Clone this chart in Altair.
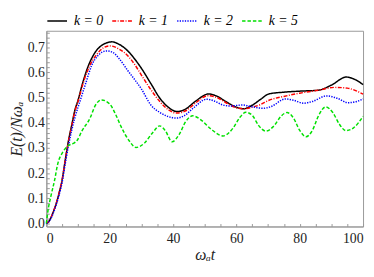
import altair as alt
import pandas as pd

# k = 0
x0 = [0, 1, 2, 3, 4, 5, 6, 7, 8, 9, 10, 11.5, 13.3, 15.4, 18, 20.7, 23, 25.7, 28, 30, 33, 36, 38.5, 41.3, 44, 47, 51.3, 54, 57, 60, 62.3, 65, 67.5, 70.3, 75, 80, 86, 90, 94.7, 97.5, 100]
y0 = [0, 0.012, 0.04, 0.075, 0.12, 0.175, 0.255, 0.33, 0.39, 0.45, 0.49, 0.56, 0.628, 0.68, 0.712, 0.722, 0.712, 0.686, 0.652, 0.617, 0.556, 0.495, 0.462, 0.445, 0.455, 0.485, 0.515, 0.505, 0.482, 0.462, 0.456, 0.47, 0.492, 0.515, 0.522, 0.526, 0.53, 0.55, 0.582, 0.572, 0.552]
# k = 1
x1 = [0, 1, 2, 3, 4, 5, 6, 7, 8, 9, 10, 11.5, 13.6, 15.5, 18, 20, 23, 25.7, 28, 30, 33, 36, 38.5, 41.2, 44, 47, 51, 54, 57, 60, 62.3, 65, 67.5, 70.3, 75, 80, 86, 91, 95, 100]
y1 = [0, 0.012, 0.04, 0.075, 0.12, 0.175, 0.253, 0.327, 0.387, 0.445, 0.485, 0.553, 0.625, 0.665, 0.698, 0.706, 0.693, 0.667, 0.63, 0.59, 0.532, 0.482, 0.452, 0.439, 0.448, 0.478, 0.508, 0.5, 0.478, 0.46, 0.456, 0.462, 0.472, 0.49, 0.505, 0.518, 0.53, 0.541, 0.538, 0.514]
# k = 2
x2 = [0, 1, 2, 3, 4, 5, 6, 7, 8, 9, 10.9, 12.5, 14.3, 16.5, 19, 21, 23, 25.7, 28, 30, 33, 36, 38.5, 41, 43.5, 46.5, 50.6, 53, 55.5, 58, 62, 64.5, 68.5, 71, 75.5, 78, 81.2, 84, 88.5, 92, 95.2, 98, 100]
y2 = [0, 0.01, 0.035, 0.07, 0.112, 0.165, 0.24, 0.31, 0.37, 0.42, 0.497, 0.56, 0.628, 0.67, 0.686, 0.68, 0.655, 0.608, 0.57, 0.535, 0.471, 0.44, 0.425, 0.419, 0.428, 0.46, 0.494, 0.487, 0.472, 0.467, 0.471, 0.465, 0.458, 0.465, 0.495, 0.49, 0.478, 0.485, 0.507, 0.497, 0.48, 0.485, 0.495]
# k = 5
x5 = [0, 0.5, 1.4, 2.6, 3.6, 5, 6, 7, 8.5, 9.7, 11.2, 13.8, 15.5, 17.4, 20, 22, 23.6, 26.2, 28.3, 31, 33.5, 35.8, 37.5, 39.7, 42, 44, 46.2, 49, 52, 55.8, 59, 61, 63, 65, 67, 69.3, 72, 74, 76, 78, 80, 82, 84, 86, 88.2, 90.5, 92.5, 94.6, 97, 100]
y5 = [0, 0.05, 0.107, 0.172, 0.237, 0.28, 0.298, 0.31, 0.318, 0.33, 0.367, 0.419, 0.47, 0.491, 0.475, 0.43, 0.385, 0.328, 0.302, 0.32, 0.36, 0.388, 0.37, 0.325, 0.355, 0.405, 0.428, 0.41, 0.375, 0.348, 0.38, 0.42, 0.442, 0.43, 0.39, 0.367, 0.39, 0.425, 0.441, 0.42, 0.37, 0.345, 0.37, 0.43, 0.463, 0.44, 0.395, 0.369, 0.38, 0.426]

labels = ["k = 0", "k = 1", "k = 2", "k = 5"]
colors = ["#000000", "#ff0000", "#0000ff", "#00e000"]
dashes = [[1, 0], [4, 1.5, 1, 1.5], [1.3, 1.3], [3.5, 2]]
x_ticks = [0, 20, 40, 60, 80, 100]
y_ticks = [0.0, 0.1, 0.2, 0.3, 0.4, 0.5, 0.6, 0.7]
x_minor = [0, 5, 10, 15, 20, 25, 30, 35, 40, 45, 50, 55, 60, 65, 70, 75, 80, 85, 90, 95, 100]
y_minor = [0.0, 0.02, 0.04, 0.06, 0.08, 0.1, 0.12, 0.14, 0.16, 0.18, 0.2, 0.22, 0.24, 0.26, 0.28,
           0.3, 0.32, 0.34, 0.36, 0.38, 0.4, 0.42, 0.44, 0.46, 0.48, 0.5, 0.52, 0.54, 0.56, 0.58,
           0.6, 0.62, 0.64, 0.66, 0.68, 0.7, 0.72, 0.74, 0.76]

rows = []
for lab, xs, ys in zip(labels, [x0, x1, x2, x5], [y0, y1, y2, y5]):
    for i, (a, b) in enumerate(zip(xs, ys)):
        rows.append({"t": a, "E": b, "k": lab, "order": i})
df = pd.DataFrame(rows)

W, H = 322, 199
font = "Liberation Serif"
frame = "#999999"
xscale = alt.Scale(domain=[0, 100], nice=False)
yscale = alt.Scale(domain=[-0.012, 0.766], nice=False, zero=False)

legend = alt.Legend(title=None, orient="top", direction="horizontal",
                    symbolType="stroke", symbolStrokeWidth=1.5,
                    symbolSize=400, labelFontSize=14, labelFont=font,
                    labelFontStyle="italic", symbolOffset=0, labelOffset=6,
                    columnPadding=6, offset=3, padding=0)

lines = alt.Chart(df).mark_line(strokeWidth=1.5, interpolate="monotone").encode(
    x=alt.X("t:Q", scale=xscale,
            axis=alt.Axis(values=x_ticks, title="ωₐt", format="d", grid=False,
                          ticks=False, labelPadding=5, titlePadding=2,
                          titleFontStyle="italic", titleFontWeight="normal")),
    y=alt.Y("E:Q", scale=yscale,
            axis=alt.Axis(values=y_ticks, title="E(t)/Nωₐ", format=".1f", grid=False,
                          ticks=False, labelPadding=2, titlePadding=3,
                          titleFontStyle="italic", titleFontWeight="normal")),
    color=alt.Color("k:N", scale=alt.Scale(domain=labels, range=colors), legend=legend),
    strokeDash=alt.StrokeDash("k:N", scale=alt.Scale(domain=labels, range=dashes), legend=legend),
    order="order:Q",
)

inner_ticks = alt.Chart(df).mark_point(opacity=0).encode(
    x=alt.X("t:Q", scale=xscale,
            axis=alt.Axis(orient="top", offset=-H, values=x_minor, labels=False, domain=False,
                          title=None, grid=False, tickSize=3, tickWidth=1)),
    y=alt.Y("E:Q", scale=yscale,
            axis=alt.Axis(orient="right", offset=-W, values=y_minor, labels=False, domain=False,
                          title=None, grid=False, tickSize=3, tickWidth=1)),
)

chart = alt.layer(lines, inner_ticks).resolve_axis(
    x="independent", y="independent"
).properties(
    width=W, height=H,
    padding={"left": 0, "top": 0, "right": 0, "bottom": 0},
).configure_view(
    stroke=frame, strokeWidth=1
).configure_axis(
    labelFont=font, titleFont=font, labelFontSize=14, titleFontSize=16,
    domainColor=frame, tickColor=frame, labelColor="#222222", titleColor="#222222"
)

chart.save("out.html", embed_options={"renderer": "svg", "actions": False})
